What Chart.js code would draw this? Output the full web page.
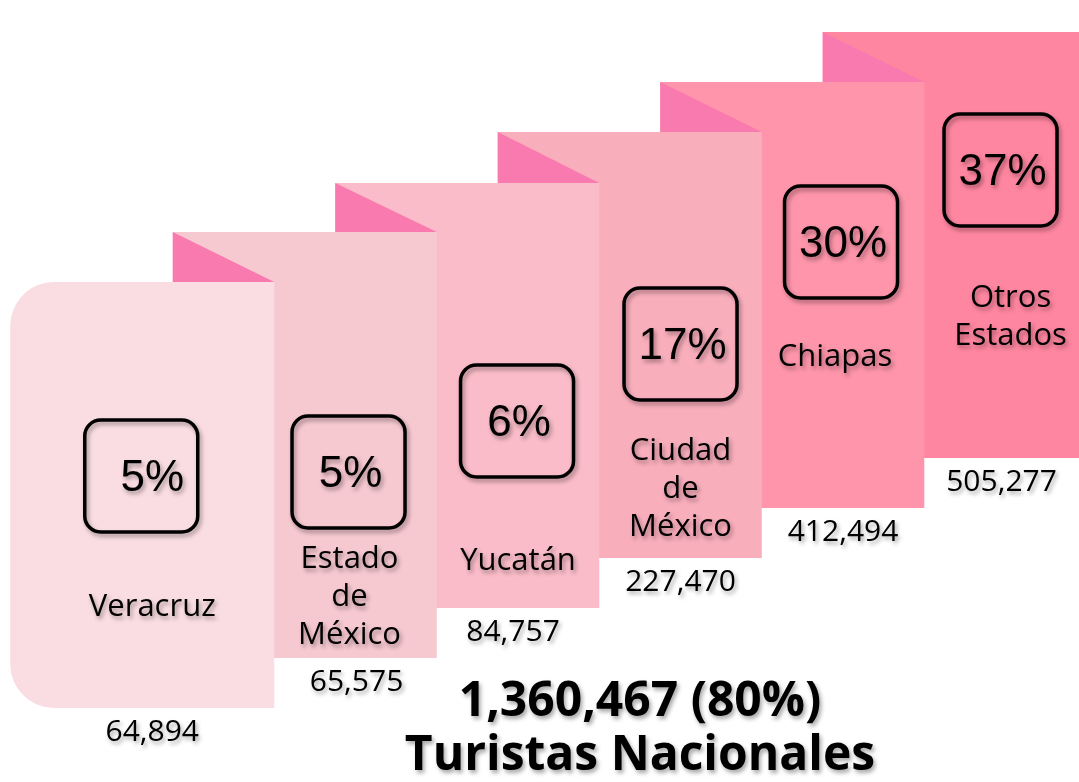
<!DOCTYPE html>
<html>
<head>
<meta charset="utf-8">
<script src="https://cdn.jsdelivr.net/npm/chart.js@4/dist/chart.umd.min.js"></script>
<style>
    html, body { margin: 0; padding: 0; background: #ffffff; }
    #wrap { width: 1079px; height: 782px; position: relative; }
</style>
</head>
<body>
<div id="wrap"><canvas id="chart"></canvas></div>
<script>
// categories (state labels, line breaks kept)
const states = [['Veracruz'], ['Estado', 'de', 'México'], ['Yucatán'], ['Ciudad', 'de', 'México'], ['Chiapas'], ['Otros', 'Estados']];
const tourists = ['64,894', '65,575', '84,757', '227,470', '412,494', '505,277'];
const shares = ['5%', '5%', '6%', '17%', '30%', '37%'];
const totalLine = '1,360,467 (80%)';
const totalLabel = 'Turistas Nacionales';

// floating panels, in scale units (0 = page bottom)
const panelBottom = [74, 124, 174, 224, 274, 324];
const panelTop = [500, 550, 599, 650, 700, 750];

// text anchors in scale units
const boxLevel = [306, 310, 361, 438, 540, 612];
const labelLevel = [175, 185, 221, 293, 425, 465];

const panelColors = ['#fadde2', '#f6c8d0', '#f9bcc8', '#f9aebc', '#fe95aa', '#ff86a0'];
const foldColor = '#f97aae';
const boxShift = [-1, -7, -1, 0, -2, -5];
const labelShift = [10, -6, 0, 0, -8, 5];
const countShift = [10, 1, -5, 0, 0, -4];

function withShadow(ctx, fn) {
    ctx.save();
    ctx.shadowColor = 'rgba(0,0,0,0.35)';
    ctx.shadowBlur = 4;
    ctx.shadowOffsetX = 2;
    ctx.shadowOffsetY = 3;
    fn();
    ctx.restore();
}

function visibleCenter(chart, i) {
    const bar = chart.getDatasetMeta(i).data[i];
    const right = bar.x + bar.width / 2;
    if (i === 0) return bar.x;
    const prev = chart.getDatasetMeta(i - 1).data[i - 1];
    return (prev.x + prev.width / 2 + right) / 2;
}

const decorations = {
    id: 'decorations',
    afterDatasetsDraw(chart) {
        const ctx = chart.ctx;
        const y = chart.scales.y;

        // folded corners above the previous panel
        for (let i = 1; i < states.length; i++) {
            const bar = chart.getDatasetMeta(i).data[i];
            const prev = chart.getDatasetMeta(i - 1).data[i - 1];
            const left = bar.x - bar.width / 2;
            const top = Math.min(bar.y, bar.base);
            const prevTop = Math.min(prev.y, prev.base);
            const prevRight = prev.x + prev.width / 2;
            ctx.save();
            ctx.fillStyle = foldColor;
            ctx.beginPath();
            ctx.moveTo(left, top);
            ctx.lineTo(left, prevTop);
            ctx.lineTo(prevRight, prevTop);
            ctx.closePath();
            ctx.fill();
            ctx.restore();
        }

        for (let i = 0; i < states.length; i++) {
            const cx = visibleCenter(chart, i);
            const bar = chart.getDatasetMeta(i).data[i];
            const bottom = Math.max(bar.y, bar.base);

            // percentage box
            const by = y.getPixelForValue(boxLevel[i]);
            const bx = cx + boxShift[i];
            const w = 113, h = 112;
            withShadow(ctx, () => {
                ctx.strokeStyle = '#000';
                ctx.lineWidth = 3.5;
                ctx.beginPath();
                ctx.roundRect(bx - w / 2, by - h / 2, w, h, 16);
                ctx.stroke();
            });
            withShadow(ctx, () => {
                ctx.fillStyle = '#000';
                ctx.font = '44px "Liberation Sans", Arial, sans-serif';
                ctx.textAlign = 'center';
                ctx.textBaseline = 'middle';
                ctx.fillText(shares[i], bx + (i === 0 ? 11 : 2), by + 3);
            });

            // state label
            const ly = y.getPixelForValue(labelLevel[i]);
            const lines = states[i];
            withShadow(ctx, () => {
                ctx.fillStyle = '#000';
                ctx.font = '31px "Open Sans", sans-serif';
                ctx.textAlign = 'center';
                ctx.textBaseline = 'middle';
                lines.forEach((t, j) => {
                    ctx.fillText(t, cx + labelShift[i], ly + (j - (lines.length - 1) / 2) * 38);
                });
            });

            // tourists count below panel
            withShadow(ctx, () => {
                ctx.fillStyle = '#000';
                ctx.font = '30px "Open Sans", sans-serif';
                ctx.textAlign = 'center';
                ctx.textBaseline = 'middle';
                ctx.fillText(tourists[i], cx + countShift[i], bottom + 24);
            });
        }

        // total
        withShadow(ctx, () => {
            ctx.fillStyle = '#000';
            ctx.font = 'bold 48px "Open Sans", sans-serif';
            ctx.textAlign = 'center';
            ctx.textBaseline = 'middle';
            ctx.fillText(totalLine, 640, 702);
            ctx.fillText(totalLabel, 640, 756);
        });
    }
};

const datasets = states.map((s, k) => ({
    label: s.join(' '),
    data: states.map((_, i) => i === k ? [panelBottom[k], panelTop[k]] : null),
    backgroundColor: panelColors[k],
    borderWidth: 0,
    borderSkipped: false,
    borderRadius: k === 0 ? { topLeft: 44, bottomLeft: 44, topRight: 0, bottomRight: 0 } : 0,
    grouped: false,
    barPercentage: 1.625,
    categoryPercentage: 1,
    clip: false
}));

new Chart(document.getElementById('chart'), {
    type: 'bar',
    data: {
        labels: states.map(s => s.join(' ')),
        datasets: datasets
    },
    options: {
        responsive: true,
        maintainAspectRatio: false,
        animation: false,
        layout: { padding: { left: 61, right: 43, top: 0, bottom: 0 } },
        plugins: {
            legend: { display: false },
            tooltip: { enabled: false }
        },
        scales: {
            x: { display: false },
            y: { display: false, min: 0, max: 782 }
        }
    },
    plugins: [decorations]
});
</script>
</body>
</html>
